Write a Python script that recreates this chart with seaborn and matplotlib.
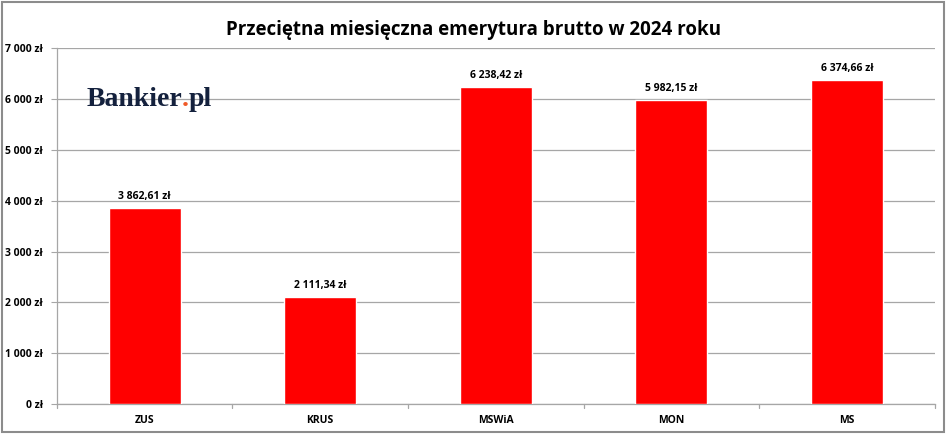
import numpy as np
import pandas as pd
import matplotlib
matplotlib.use('Agg')
import matplotlib.pyplot as plt
import seaborn as sns
from matplotlib.patches import Rectangle

# Dane: przeciętna emerytura brutto w 2024 r.
kategorie = ['ZUS', 'KRUS', 'MSWiA', 'MON', 'MS']
emerytury = [3862.61, 2111.34, 6238.42, 5982.15, 6374.66]
etykiety = ['3 862,61 zł', '2 111,34 zł', '6 238,42 zł', '5 982,15 zł', '6 374,66 zł']
ticki_y = [0, 1000, 2000, 3000, 4000, 5000, 6000, 7000]
ticki_y_opis = ['0 zł', '1 000 zł', '2 000 zł', '3 000 zł', '4 000 zł', '5 000 zł', '6 000 zł', '7 000 zł']

df = pd.DataFrame({'Instytucja': kategorie, 'Emerytura': emerytury})

sns.set_style('white')
plt.rcParams['font.family'] = ['Open Sans', 'DejaVu Sans']
plt.rcParams['text.color'] = 'black'
plt.rcParams['xtick.color'] = 'black'
plt.rcParams['ytick.color'] = 'black'

fig = plt.figure(figsize=(9.48, 4.34), dpi=100)
ax = fig.add_axes([0.060, 0.069, 0.926, 0.820])

sns.barplot(data=df, x='Instytucja', y='Emerytura', color='#ff0000', saturation=1,
            width=0.41, ax=ax, zorder=3)

ax.set_ylim(0, 7000)
ax.set_xlim(-0.5, 4.5)
ax.set_yticks(ticki_y)
ax.set_yticklabels(ticki_y_opis, fontsize=7.5, fontweight='bold')
ax.tick_params(axis='x', labelsize=7.5, length=0, pad=8)
for t in ax.get_xticklabels():
    t.set_fontweight('bold')
ax.set_xlabel('')
ax.set_ylabel('')
ax.grid(axis='y', color='#a6a6a6', linewidth=0.9, zorder=0)
ax.tick_params(axis='y', length=4, color='#a6a6a6', left=True, pad=6)

for s in ['top', 'right']:
    ax.spines[s].set_visible(False)
for s in ['left', 'bottom']:
    ax.spines[s].set_color('#a6a6a6')
    ax.spines[s].set_linewidth(0.9)

# znaczniki między kategoriami na osi x
for xb in np.arange(-0.5, 5.0, 1.0):
    ax.plot([xb, xb], [0, -0.012], transform=ax.get_xaxis_transform(), color='#a6a6a6',
            linewidth=0.9, clip_on=False)

# etykiety wartości
for i, (v, txt) in enumerate(zip(emerytury, etykiety)):
    ax.text(i, v + 120, txt, ha='center', va='bottom', fontsize=7.5, fontweight='bold')

fig.suptitle('Przeciętna miesięczna emerytura brutto w 2024 roku', y=0.955,
             fontsize=13.5, fontweight='bold', color='black')

# logo
logo_font = dict(fontsize=20, fontweight='bold', family='Liberation Serif', va='baseline')
t1 = fig.text(0.091, 0.755, 'Bankier', color='#14213d', **logo_font)
fig.canvas.draw()
r = fig.canvas.get_renderer()
x1 = fig.transFigure.inverted().transform(t1.get_window_extent(r))[1][0]
t2 = fig.text(x1, 0.755, '.', color='#f05a28', **logo_font)
fig.canvas.draw()
x2 = fig.transFigure.inverted().transform(t2.get_window_extent(r))[1][0]
fig.text(x2, 0.755, 'pl', color='#14213d', **logo_font)

# ramka wykresu
fig.patches.append(Rectangle((0.002, 0.004), 0.994, 0.992, transform=fig.transFigure,
                             fill=False, edgecolor='#8c8c8c', linewidth=1.5))

fig.savefig('out.png', dpi=100)
